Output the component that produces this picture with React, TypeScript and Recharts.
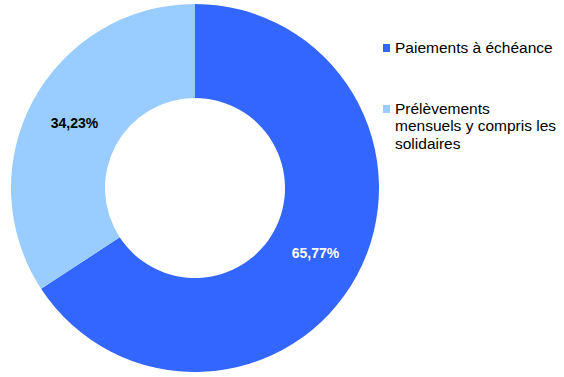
import { Cell, Legend, Pie, PieChart } from "recharts";

const categories = [
  "Paiements à échéance",
  "Prélèvements mensuels y compris les solidaires",
];
const shares = [65.77, 34.23];
const colors = ["#3366FF", "#99CCFF"];
const labelColors = ["#FFFFFF", "#000000"];

const data = categories.map((name, i) => ({ name, value: shares[i] }));

const RADIAN = Math.PI / 180;

function renderLabel(props: any) {
  const { cx, cy, midAngle, innerRadius, outerRadius, index, value } = props;
  const r = (innerRadius + outerRadius) / 2;
  const x = cx + r * Math.cos(-midAngle * RADIAN);
  const y = cy + r * Math.sin(-midAngle * RADIAN);
  return (
    <text
      x={x}
      y={y}
      fill={labelColors[index]}
      textAnchor="middle"
      dominantBaseline="central"
      fontFamily="Liberation Sans, Arial, sans-serif"
      fontWeight="bold"
      fontSize={14}
    >
      {value.toFixed(2).replace(".", ",")}%
    </text>
  );
}

function LegendContent() {
  return (
    <div style={{ fontFamily: "Liberation Sans, Arial, sans-serif", fontSize: 15.5, color: "#000" }}>
      {categories.map((c, i) => (
        <div
          key={c}
          style={{ display: "flex", alignItems: "flex-start", marginBottom: i === 0 ? 43 : 0, lineHeight: "17.5px" }}
        >
          <span
            style={{
              display: "inline-block",
              width: 7,
              height: 8,
              background: colors[i],
              marginTop: 5,
              marginRight: 5,
              flexShrink: 0,
            }}
          />
          <span style={{ width: 163 }}>{c}</span>
        </div>
      ))}
    </div>
  );
}

export default function App() {
  return (
    <div style={{ position: "absolute", left: 0, top: 0, width: 564, height: 377, background: "#fff" }}>
      <PieChart width={564} height={377} margin={{ top: 0, right: 0, bottom: 0, left: 0 }}>
        <Pie
          data={data}
          dataKey="value"
          cx={195}
          cy={188}
          innerRadius={90}
          outerRadius={184}
          startAngle={90}
          endAngle={-270}
          stroke="none"
          label={renderLabel}
          labelLine={false}
          isAnimationActive={false}
        >
          {data.map((_, i) => (
            <Cell key={i} fill={colors[i]} />
          ))}
        </Pie>
        <Legend
          layout="vertical"
          verticalAlign="top"
          align="right"
          content={<LegendContent />}
          wrapperStyle={{ left: 383, top: 39, width: 180 }}
        />
      </PieChart>
    </div>
  );
}
